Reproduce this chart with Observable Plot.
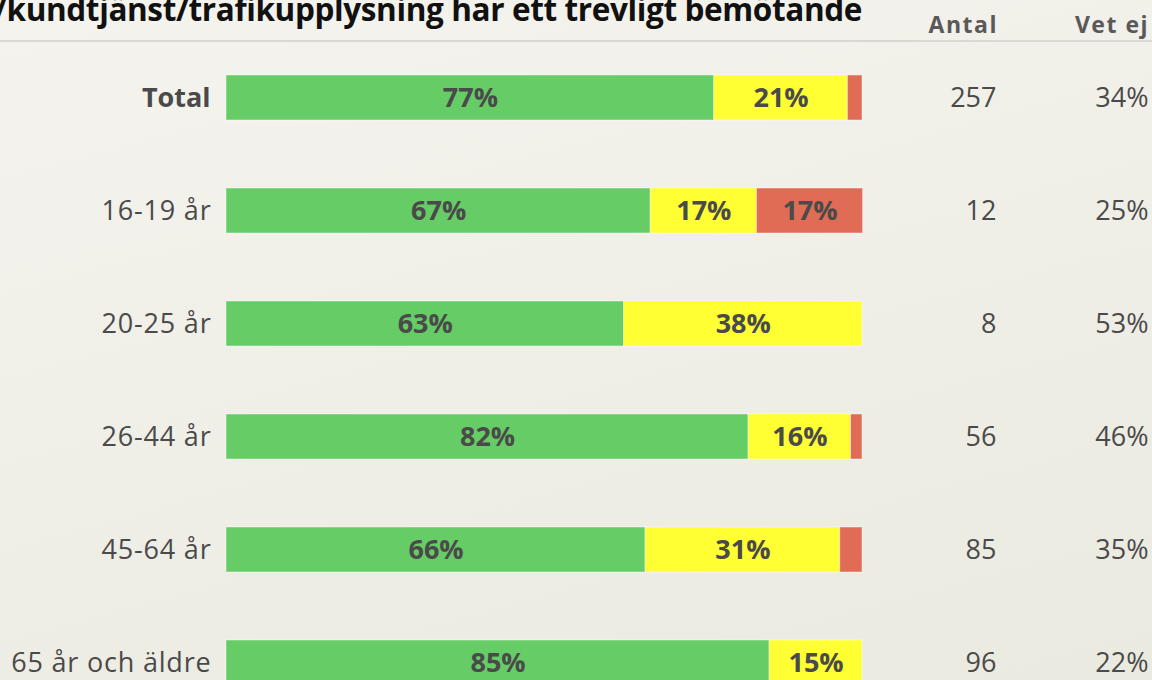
<!DOCTYPE html>
<html>
<head>
<meta charset="utf-8">
<script src="https://cdn.jsdelivr.net/npm/d3@7"></script>
<script src="https://cdn.jsdelivr.net/npm/@observablehq/plot@0.6"></script>
<style>
  html, body { margin: 0; padding: 0; width: 1152px; height: 680px; overflow: hidden; }
  body { background: linear-gradient(165deg, #f4f3ed 0%, #efeee6 60%, #ebeae0 100%); font-family: "Open Sans", sans-serif; }
  #wrap { position: relative; width: 1152px; height: 680px; }
  #header { position: absolute; left: 0; top: 0; width: 1152px; height: 40px; border-bottom: 2px solid #d9d8d2; }
  #title { position: absolute; right: 290px; top: -13.5px; white-space: nowrap; font: bold 31.5px "Open Sans", sans-serif; letter-spacing: -0.38px; color: #111; }
  .colhead { position: absolute; top: 8px; font: bold 23px "Open Sans", sans-serif; color: #595959; letter-spacing: 1.5px; }
  #chart { position: absolute; left: 0; top: 0; }
  .ylab text { letter-spacing: 0.8px; }
</style>
</head>
<body>
<div id="wrap">
  <div id="chart"></div>
  <div id="header">
    <div id="title">Bemötande i telefon/kundtjänst/trafikupplysning har ett trevligt bemötande</div>
    <div class="colhead" id="h1" style="right:154px">Antal</div>
    <div class="colhead" id="h2" style="right:3px">Vet ej</div>
  </div>
</div>
<script>
const groups = ["Total", "16-19 år", "20-25 år", "26-44 år", "45-64 år", "65 år och äldre"];
const categories = ["Instämmer", "Neutral", "Instämmer ej"];
const green = [76.7, 66.7, 62.5, 82.1, 65.9, 85.4];
const yellow = [21.0, 16.7, 37.5, 16.1, 30.6, 14.6];
const red = [2.3, 16.7, 0, 1.8, 3.5, 0];
const antal = [257, 12, 8, 56, 85, 96];
const vetEj = ["34%", "25%", "53%", "46%", "35%", "22%"];
const colors = ["#66cc66", "#ffff33", "#e06c55"];

const series = [green, yellow, red];
const data = [];
groups.forEach((g, i) => {
  categories.forEach((c, k) => data.push({group: g, cat: c, value: series[k][i]}));
});
const rows = groups.map((g, i) => ({group: g, antal: antal[i], vetEj: vetEj[i]}));

const chart = Plot.plot({
  width: 1152,
  height: 680,
  marginLeft: 226,
  marginRight: 290,
  style: {background: "transparent", fontFamily: "Open Sans, sans-serif", overflow: "hidden"},
  x: {domain: [0, 100], axis: null},
  y: {domain: groups, range: [5.8, 754.2], padding: 0.603},
  color: {domain: categories, range: colors},
  marks: [
    Plot.barX(data, Plot.stackX({x: "value", y: "group", z: "cat", fill: "cat", order: categories, stroke: "rgba(255,255,255,0.45)", strokeWidth: 1})),
    Plot.text(data, Plot.stackX({x: "value", y: "group", z: "cat", order: categories,
      text: d => d.value >= 10 ? Math.round(d.value) + "%" : "",
      fill: "#4a4a4a", fontWeight: "bold", fontSize: 27, dy: 0.5})),
    Plot.axisY(["Total"], {tickSize: 0, tickPadding: 16, fontSize: 27, fontWeight: "bold", fill: "#4a4a4a", label: null, dy: 0.5}),
    Plot.axisY(groups.slice(1), {tickSize: 0, tickPadding: 15, fontSize: 27, fill: "#4a4a4a", label: null, className: "ylab", dy: 0.5}),
    Plot.text(rows, {y: "group", text: d => String(d.antal), frameAnchor: "right", textAnchor: "end", dx: 134, fontSize: 27, fill: "#4a4a4a", dy: 0.5}),
    Plot.text(rows, {y: "group", text: "vetEj", frameAnchor: "right", textAnchor: "end", dx: 286, fontSize: 27, fill: "#4a4a4a", dy: 0.5})
  ]
});
document.getElementById("chart").appendChild(chart);
</script>
</body>
</html>
